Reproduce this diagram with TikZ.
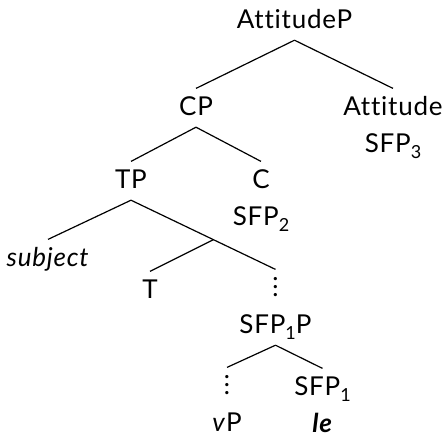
\documentclass[tikz,border=0pt]{standalone}
\usepackage{fontspec}
\setmainfont{Lato}[Ligatures=NoCommon, LetterSpace=3]
\usetikzlibrary{positioning}

\newcommand\subs[1]{\raisebox{-3pt}{\fontsize{9}{9}\selectfont #1}}
\newcommand\vdts{\vbox{\baselineskip=3.8pt\lineskiplimit=-10pt\hbox{.}\hbox{.}\hbox{.}}}

\begin{document}
\begin{tikzpicture}[x=0.5pt, y=-0.5pt, node distance=18.5pt, line width=0.6pt,
    every node/.style={font=\fontsize{13}{15}\selectfont, text height=9.2pt, text depth=2pt, inner xsep=0pt, inner ysep=3.8pt}]
    \useasboundingbox (0,0) rectangle (445,434);

    \node[anchor=base] (ap) at (294.5,28) {AttitudeP};
    \node[anchor=base] (cp) at (196,115) {CP};
    \node[anchor=base] (att) at (393,115) {Attitude};
    \node[below of=att] (sfp3) {SFP\subs{3}};
    \node[anchor=base] (tp) at (131,188) {TP};
    \node[anchor=base] (c) at (261,188) {C};
    \node[below of=c] (sfp2) {SFP\subs{2}};
    \node[anchor=base] (subj) at (48,266) {\textit{subject}};
    \node[anchor=base] (t) at (150,298) {T};
    \node[anchor=base] (dotsA) at (275.5,296) {\vdts};
    \node[below of=dotsA] (sfpp) {SFP\subs{1}P};
    \node[anchor=base] (dotsB) at (227,394) {\vdts};
    \node[below of=dotsB] (vp) {\textit{v}P};
    \node[anchor=base] (sfp1) at (322.5,395) {SFP\subs{1}};
    \node[below of=sfp1] (le) {\textbf{\textit{le}}};

    \draw (ap.south) -- (cp.north);
    \draw (ap.south) -- (att.north);
    \draw (cp.south) -- (tp.north);
    \draw (cp.south) -- (c.north);
    \draw (tp.south) -- (subj.north);
    \draw (tp.south) -- coordinate[pos=0.57] (tbar) (dotsA.north);
    \draw (tbar) -- (t.north);
    \draw (sfpp.south) -- (dotsB.north);
    \draw (sfpp.south) -- (sfp1.north);
  \end{tikzpicture}
\end{document}
